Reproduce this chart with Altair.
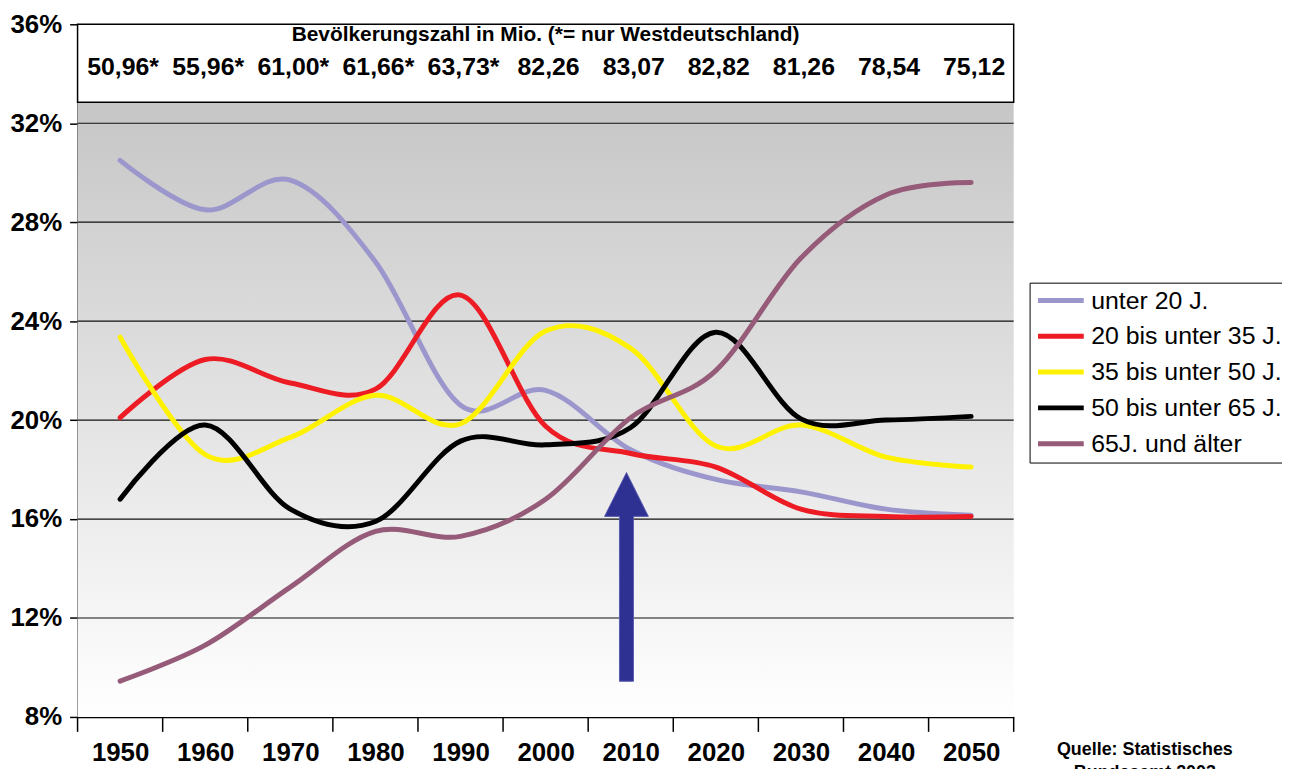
import altair as alt
import pandas as pd

# ---------------- data ----------------
years = [1950, 1960, 1970, 1980, 1990, 2000, 2010, 2020, 2030, 2040, 2050]
series_names = ["unter 20 J.", "20 bis unter 35 J.", "35 bis unter 50 J.",
                "50 bis unter 65 J.", "65J. und älter"]
series_colors = ["#9B97CC", "#ED1C24", "#FFF200", "#000000", "#955B78"]

unter_20 = [30.5, 28.5, 29.7, 26.4, 20.6, 21.2, 18.8, 17.6, 17.1, 16.4, 16.15]
von_20_35 = [20.1, 22.45, 21.5, 21.25, 25.05, 19.75, 18.65, 18.1, 16.4, 16.1, 16.1]
von_35_50 = [23.35, 18.6, 19.3, 21.0, 19.85, 23.6, 22.9, 18.95, 19.8, 18.5, 18.1]
von_50_65 = [16.8, 19.8, 16.4, 15.9, 19.15, 19.0, 19.7, 23.55, 20.05, 20.0, 20.15]
ab_65 = [9.45, 10.9, 13.25, 15.5, 15.3, 16.8, 20.1, 22.0, 26.55, 29.1, 29.6]

population = ["50,96*", "55,96*", "61,00*", "61,66*", "63,73*", "82,26",
              "83,07", "82,82", "81,26", "78,54", "75,12"]
box_title = "Bevölkerungszahl in Mio. (*= nur Westdeutschland)"
y_ticks = [8, 12, 16, 20, 24, 28, 32, 36]
source_line_1 = "Quelle: Statistisches"
source_line_2 = "Bundesamt 2003"

# arrow annotation (year, centre value in %)
arrow_year = [2009.5]
arrow_center = [13.66]

# ---------------- layout ----------------
W, H = 942, 697
FONT = "Liberation Sans"

all_series = [unter_20, von_20_35, von_35_50, von_50_65, ab_65]
rows = []
for name, vals in zip(series_names, all_series):
    for yr, v in zip(years, vals):
        rows.append({"year": yr, "value": v, "series": name})
df = pd.DataFrame(rows)

xscale = alt.Scale(domain=[years[0] - 5, years[-1] + 5], nice=False, zero=False)
yscale = alt.Scale(domain=[8, 36], nice=False, zero=False)

# identical axis definitions are used in every layer so that they merge
yaxis = alt.Axis(values=y_ticks, labelExpr="datum.value + '%'", tickSize=8,
                 tickColor="black", tickWidth=1.5, labelFontSize=26,
                 labelFontWeight="bold", labelFont=FONT, labelColor="black",
                 labelPadding=8, domainColor="black", domainWidth=1.5,
                 grid=False, title=None, labelFlush=False, labelOverlap=False)
xaxis = alt.Axis(values=years, ticks=False, labelFontSize=26, labelFontWeight="bold",
                 labelFont=FONT, labelColor="black", labelPadding=23,
                 domainColor="black", domainWidth=1.5, grid=False, title=None,
                 format="d", labelFlush=False, labelOverlap=False)


def X(field):
    return alt.X(field, scale=xscale, axis=xaxis)


def Y(field):
    return alt.Y(field, scale=yscale, axis=yaxis)


# background gradient
bg = alt.Chart(pd.DataFrame({"top": [36], "bot": [8]})).mark_rect(
    color=alt.Gradient(gradient="linear",
                       stops=[alt.GradientStop(color="#bfbfbf", offset=0),
                              alt.GradientStop(color="#ffffff", offset=1)],
                       x1=0, x2=0, y1=0, y2=1)
).encode(x=alt.value(0), x2=alt.value(W), y=Y("top:Q"), y2="bot:Q")

# gridlines
grid = alt.Chart(pd.DataFrame({"v": y_ticks[1:-1]})).mark_rule(
    color="#111111", strokeWidth=1.2
).encode(y=Y("v:Q"), x=alt.value(0), x2=alt.value(W))

# top white box
box = alt.Chart(pd.DataFrame({"top": [36], "bot": [32.85]})).mark_rect(
    fill="white", stroke="black", strokeWidth=1.5
).encode(x=alt.value(0), x2=alt.value(W), y=Y("top:Q"), y2="bot:Q")

box_title_txt = alt.Chart(pd.DataFrame({"t": [box_title]})).mark_text(
    font=FONT, fontSize=21, fontWeight="bold", color="black", baseline="middle"
).encode(x=alt.value(W / 2), y=alt.value(11), text="t:N")

pop_txt = alt.Chart(pd.DataFrame({"year": years, "p": population})).mark_text(
    font=FONT, fontSize=25, fontWeight="bold", color="black", baseline="middle", dx=3
).encode(x=X("year:Q"), y=alt.value(43), text="p:N")

# lines
lines = alt.Chart(df).mark_line(
    interpolate="cardinal", tension=0, strokeWidth=5, strokeCap="round"
).encode(
    x=X("year:Q"),
    y=Y("value:Q"),
    color=alt.Color("series:N",
                    scale=alt.Scale(domain=series_names, range=series_colors),
                    sort=series_names,
                    legend=alt.Legend(orient="none", legendX=958, legendY=260,
                                      title=None, symbolType="stroke",
                                      symbolSize=2116, symbolStrokeWidth=5,
                                      clipHeight=24,
                                      labelFontSize=25, labelFont=FONT,
                                      labelColor="black", rowPadding=11,
                                      padding=6, strokeColor="black",
                                      fillColor="white", labelOffset=5,
                                      labelLimit=400)),
    order=alt.Order("year:Q"),
)

# boundary tick marks on the x axis
bounds = [y - 5 for y in years] + [years[-1] + 5]
xticks = alt.Chart(pd.DataFrame({"b": bounds})).mark_rule(
    color="black", strokeWidth=1.5
).encode(x=X("b:Q"), y=alt.value(H), y2=alt.value(H + 15))

# arrow
arrow_path = ("M-0.067,1 L0.067,1 L0.067,-0.58 L0.21,-0.58 L0,-1 "
              "L-0.21,-0.58 L-0.067,-0.58 Z")
arrow = alt.Chart(pd.DataFrame({"year": arrow_year, "v": arrow_center})).mark_point(
    shape=arrow_path, size=44100, filled=True, fill="#2E3192", stroke="#5A5CAE",
    strokeWidth=1, opacity=1
).encode(x=X("year:Q"), y=Y("v:Q"))

# source text (second line runs off the bottom edge, as in the reference)
src1 = alt.Chart(pd.DataFrame({"t": [source_line_1]})).mark_text(
    font=FONT, fontSize=18, fontWeight="bold", color="black", baseline="middle"
).encode(x=alt.value(1074), y=alt.value(730), text="t:N")
src2 = alt.Chart(pd.DataFrame({"t": [source_line_2]})).mark_text(
    font=FONT, fontSize=18, fontWeight="bold", color="black", baseline="middle"
).encode(x=alt.value(1074), y=alt.value(753), text="t:N")

chart = alt.layer(bg, grid, box, box_title_txt, pop_txt, lines, xticks, arrow,
                  src1, src2).properties(
    width=W, height=H,
    autosize=alt.AutoSizeParams(type="none"),
    padding={"left": 70, "top": 14, "right": 270, "bottom": 50},
).configure_view(stroke=None)

chart.save("out.html", embed_options={"renderer": "svg", "actions": False})
